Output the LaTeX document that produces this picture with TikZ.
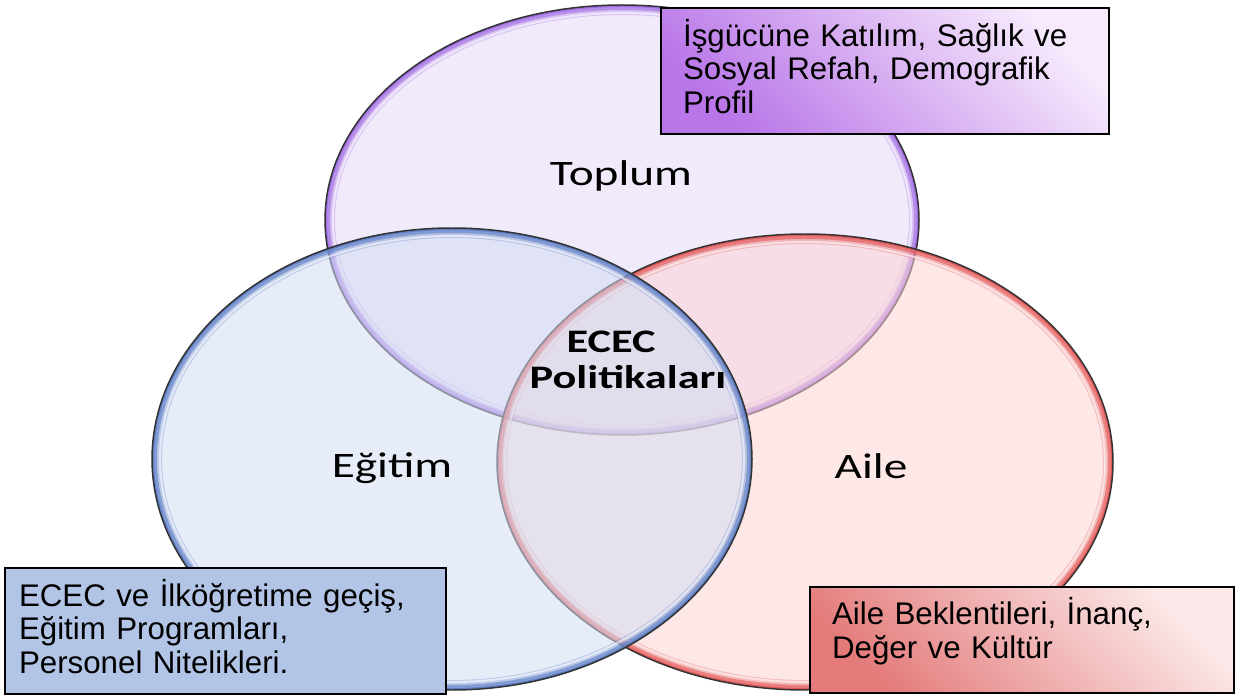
\documentclass[tikz,border=0pt]{standalone}
\usepackage{fontspec}
\setmainfont{Liberation Sans}
\newfontfamily\calibri{Carlito}
\usepackage{tikz}

\definecolor{purpfill}{RGB}{230,216,248}
\definecolor{purprim}{RGB}{155,100,225}
\definecolor{bluefill}{RGB}{210,222,243}
\definecolor{bluerim}{RGB}{85,120,195}
\definecolor{redfill}{RGB}{252,212,212}
\definecolor{redrim}{RGB}{225,80,80}
\definecolor{purptop}{RGB}{246,234,252}
\definecolor{purpbot}{RGB}{185,118,232}
\definecolor{bluebox}{RGB}{178,197,230}
\definecolor{redtop}{RGB}{252,234,234}
\definecolor{redbot}{RGB}{228,122,122}

\tikzset{
  circlabel/.style={font=\calibri\fontsize{20.4}{24}\selectfont, xscale=1.32, anchor=base},
  centerlabel/.style={font=\calibri\bfseries\fontsize{18.7}{22}\selectfont, xscale=1.35, anchor=base},
  descbox/.style={draw, line width=1.2pt, anchor=north west, align=left,
    font=\fontsize{17.8}{19.07}\selectfont},
}

\begin{document}
\begin{tikzpicture}[x=0.02cm, y=0.02cm]
\useasboundingbox (0,0) rectangle (1244,697);

% three overlapping circles
\foreach \cx/\cy/\rx/\ry/\fc/\rc in {622/477/297/215/purpfill/purprim,
    805/235/308/228/redfill/redrim, 452/238/300/231/bluefill/bluerim}{
  \fill[\fc, fill opacity=0.55] (\cx,\cy) ellipse [x radius=\rx, y radius=\ry];
  \begin{scope}
    \clip (\cx,\cy) ellipse [x radius=\rx, y radius=\ry];
    \draw[\rc, line width=0.4cm, opacity=0.3] (\cx,\cy) ellipse [x radius=\rx, y radius=\ry];
    \draw[\rc, line width=0.2cm, opacity=0.55] (\cx,\cy) ellipse [x radius=\rx, y radius=\ry];
    \draw[\rc, line width=0.08cm, opacity=0.8] (\cx,\cy) ellipse [x radius=\rx, y radius=\ry];
  \end{scope}
  \draw[white, line width=1.2pt, opacity=0.6] (\cx,\cy) ellipse [x radius=\rx-8, y radius=\ry-8];
  \draw[black!80, line width=0.85pt] (\cx,\cy) ellipse [x radius=\rx, y radius=\ry];
}

\node[circlabel] (toplum) at (621,511) {Toplum};
\node[circlabel] (egitim) at (392,220) {Eğitim};
\node[circlabel] (aile) at (871,219) {Aile};
\node[centerlabel] (ecec) at (611,344) {ECEC};
\node[centerlabel] (politika) at (628,308) {Politikaları};

% description boxes
\node[descbox, top color=purptop, bottom color=purpbot, shading angle=-45,
  inner xsep=0.44cm, text width=8.08cm, minimum height=2.52cm] (toplumbox) at (660,690)
  {\strut İşgücüne Katılım, Sağlık ve\\Sosyal Refah, Demografik\\Profil\strut};
\node[descbox, fill=bluebox,
  inner xsep=0.28cm, text width=8.26cm, minimum height=2.52cm] (egitimbox) at (4,130)
  {\strut ECEC ve İlköğretime geçiş,\\Eğitim Programları,\\Personel Nitelikleri.\strut};
\node[descbox, top color=redtop, bottom color=redbot, shading angle=-45,
  inner xsep=0.44cm, text width=7.6cm, minimum height=2.12cm] (ailebox) at (809,111)
  {\strut Aile Beklentileri, İnanç,\\Değer ve Kültür\rule[-0.48cm]{0pt}{0pt}};
\end{tikzpicture}
\end{document}
